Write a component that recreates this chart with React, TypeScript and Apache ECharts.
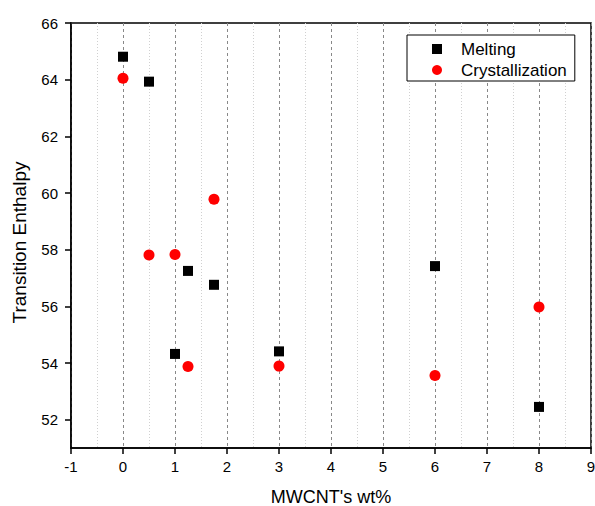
import React, { useEffect, useRef } from "react";
import * as echarts from "echarts";

const meltingX = [0, 0.5, 1, 1.25, 1.75, 3, 6, 8];
const meltingY = [64.81, 63.93, 54.32, 57.25, 56.76, 54.41, 57.42, 52.45];
const crystX = [0, 0.5, 1, 1.25, 1.75, 3, 6, 8];
const crystY = [64.05, 57.81, 57.83, 53.88, 59.78, 53.89, 53.56, 55.98];
const yMajorTicks = [52, 54, 56, 58, 60, 62, 64, 66];
const seriesNames = ["Melting", "Crystallization"];
const xTitle = "MWCNT's wt%";
const yTitle = "Transition Enthalpy";

const FONT = "'Liberation Sans', Arial, sans-serif";

export default function App() {
  const ref = useRef<HTMLDivElement>(null);
  useEffect(() => {
    if (!ref.current) return;
    const chart = echarts.init(ref.current, null, { renderer: "svg" });
    const pair = (xs: number[], ys: number[]) => xs.map((x, i) => [x, ys[i]]);
    chart.setOption({
      animation: false,
      grid: {
        left: 71,
        right: 4,
        top: 23,
        bottom: 58,
        show: true,
        borderColor: "#000",
        borderWidth: 1.5,
        outerBoundsMode: "none",
      },
      legend: {
        orient: "vertical",
        left: 407,
        top: 35,
        padding: [4, 8, 1, 25],
        itemWidth: 10,
        itemHeight: 10,
        itemGap: 1,
        borderColor: "#000",
        borderWidth: 1,
        backgroundColor: "#fff",
        textStyle: {
          fontFamily: FONT,
          fontSize: 17,
          color: "#000",
          lineHeight: 20,
          padding: [0, 0, 0, 14],
        },
        data: seriesNames,
      },
      xAxis: {
        type: "value",
        min: -1,
        max: 9,
        interval: 1,
        name: xTitle,
        nameLocation: "middle",
        nameGap: 40,
        nameTextStyle: { fontFamily: FONT, fontSize: 18, color: "#000", lineHeight: 18 },
        axisLine: { show: true, onZero: false, lineStyle: { color: "#000", width: 1.5 } },
        axisTick: { show: true, inside: false, length: 6, lineStyle: { color: "#000", width: 1.5 } },
        minorTick: { show: false, splitNumber: 2 },
        axisLabel: { fontFamily: FONT, fontSize: 15, color: "#000", margin: 11 },
        splitLine: { show: true, lineStyle: { color: "#888", width: 1, type: [3, 3] } },
        minorSplitLine: { show: true, lineStyle: { color: "#d0d0d0", width: 1, type: [1, 2] } },
      },
      yAxis: {
        type: "value",
        min: 51,
        max: 66,
        name: yTitle,
        nameLocation: "middle",
        nameGap: 42,
        nameRotate: 90,
        nameTextStyle: { fontFamily: FONT, fontSize: 19, color: "#000", padding: [0, 14, 0, 0] },
        axisLine: { show: true, onZero: false, lineStyle: { color: "#000", width: 1.5 } },
        axisTick: {
          show: true,
          inside: false,
          length: 6,
          customValues: yMajorTicks,
          lineStyle: { color: "#000", width: 1.5 },
        },
        axisLabel: {
          fontFamily: FONT,
          fontSize: 15,
          color: "#000",
          margin: 13,
          customValues: yMajorTicks,
        },
        splitLine: { show: false },
      },
      series: [
        {
          name: seriesNames[0],
          type: "scatter",
          symbol: "rect",
          symbolSize: 10,
          itemStyle: { color: "#000", opacity: 1 },
          data: pair(meltingX, meltingY),
          z: 3,
        },
        {
          name: seriesNames[1],
          type: "scatter",
          symbol: "circle",
          symbolSize: 11,
          itemStyle: { color: "#ff0000", opacity: 1 },
          data: pair(crystX, crystY),
          z: 3,
        },
      ],
    });
    return () => chart.dispose();
  }, []);
  return <div ref={ref} style={{ width: 595, height: 506, position: "absolute", left: 0, top: 0, background: "#fff" }} />;
}
